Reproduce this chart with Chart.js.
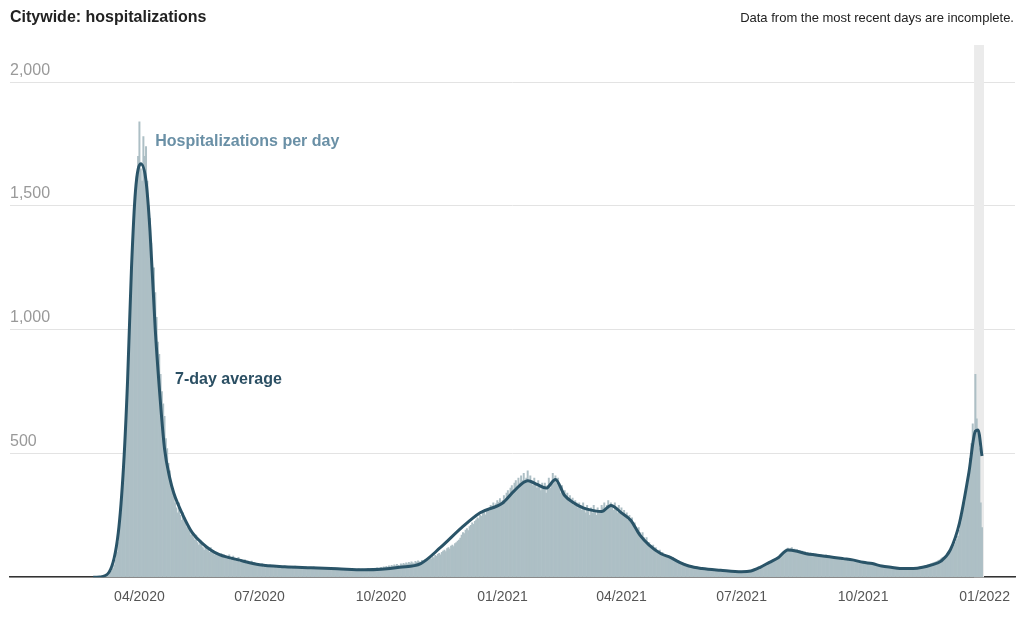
<!DOCTYPE html>
<html><head><meta charset="utf-8">
<script src="https://cdn.jsdelivr.net/npm/chart.js@4"></script>
<style>
body{margin:0;background:#fff;font-family:Arial,"Liberation Sans",sans-serif}
#wrap{position:relative;width:1024px;height:630px}
#title{position:absolute;left:10px;top:8px;font-weight:bold;font-size:16px;color:#222}
#note{position:absolute;right:10px;top:10px;font-size:13px;color:#222}
</style></head><body>
<div id="wrap"><canvas id="c" width="1024" height="630"></canvas>
<div id="title">Citywide: hospitalizations</div>
<div id="note">Data from the most recent days are incomplete.</div></div>
<script>
// days counted from 2020-04-01
const tickDays = [0, 91, 183, 275, 365, 456, 548, 640];
const tickLabels = ['04/2020','07/2020','10/2020','01/2021','04/2021','07/2021','10/2021','01/2022'];
const yTicks = [0, 500, 1000, 1500, 2000];
const barStartDay = -30; // 2020-03-02
const dailyHosp = [
1,2,3,5,6,8,10,14,18,25,35,50,70,100,140,200,260,350,420,520,640,760,900,1050,1200,1350,1500,1550,1620,1700,
1840,1650,1600,1780,1700,1740,1600,1500,1450,1350,1200,1250,1150,1050,950,900,820,750,700,650,560,520,460,430,380,340,330,300,280,260,
300,250,230,260,240,220,200,210,190,170,180,160,150,170,140,130,150,140,120,110,130,120,110,100,120,110,100,90,100,95,90,
85,95,80,90,85,75,80,90,70,75,85,70,65,75,80,60,70,65,60,70,55,65,60,55,65,50,60,55,50,55,
50,45,55,40,45,50,45,40,50,45,40,48,42,38,45,40,35,42,38,45,40,36,42,38,35,40,38,45,36,38,40,
38,35,40,36,42,38,35,40,38,36,42,34,38,40,35,37,39,34,38,36,40,35,33,38,36,34,37,35,32,36,34,
33,30,35,32,28,34,31,30,33,29,32,28,30,34,31,29,33,30,28,32,35,31,29,33,36,32,34,38,35,37,
40,36,42,38,44,40,46,42,48,44,50,46,52,48,45,54,50,56,52,58,54,60,56,62,58,55,64,60,66,62,58,
68,64,70,66,74,70,78,74,82,78,88,84,92,96,90,100,106,110,104,116,120,114,126,130,124,136,140,146,150,158,
170,180,176,190,196,188,204,210,220,214,226,232,240,236,250,246,258,264,252,270,276,268,290,280,300,286,296,310,302,318,290,
310,330,300,340,350,320,360,370,340,380,390,360,400,380,410,390,420,380,400,430,380,410,390,370,400,380,360,390,370,350,380,
360,380,340,370,400,360,380,420,390,410,380,400,360,340,370,330,350,320,340,310,330,300,320,290,310,300,280,300,
290,270,300,280,260,290,270,250,280,260,290,270,250,280,260,270,290,280,300,270,290,310,280,300,290,270,300,280,260,290,270,
280,250,270,240,260,230,250,220,240,210,220,200,190,200,180,170,180,160,150,160,140,140,130,120,130,110,120,105,100,110,
95,100,90,92,85,88,80,84,76,80,72,70,66,68,62,60,58,56,54,52,50,48,46,45,44,42,40,42,38,40,37,
36,34,35,33,32,34,31,30,32,29,28,30,27,28,26,27,25,26,24,25,23,24,22,23,24,22,21,23,22,21,
22,20,21,23,22,24,23,25,26,28,27,30,32,34,36,38,40,44,48,50,54,58,60,64,68,72,76,80,84,90,94,
98,104,110,114,118,112,116,120,110,114,108,112,104,108,100,106,98,102,96,100,94,98,92,96,90,94,88,92,86,90,84,
88,84,90,82,86,80,84,78,82,76,80,74,78,72,76,70,74,68,72,66,70,64,68,62,66,60,64,58,62,56,
60,56,58,54,58,52,56,50,54,48,52,46,50,45,48,44,46,42,44,40,42,39,41,38,40,37,39,36,38,35,37,
36,34,38,35,37,33,36,34,38,36,40,38,42,40,44,42,46,48,50,52,54,56,58,60,62,64,68,70,74,78,
80,84,88,94,100,106,114,122,130,140,152,166,190,220,250,280,300,340,380,420,480,540,620,560,820,640,580,520,300,200
];
const avgDays = [-35,-30,-23,-16,-12,-9,-6,-3,1,5,8,12,16,19,23,26,33,40,47,54,61,75,91,110,130,150,170,183,197,213,228,244,258,275,284,294,301,308,315,322,329,336,343,350,357,365,372,379,386,395,402,409,416,426,440,456,463,470,477,484,491,498,505,512,519,526,533,540,548,555,562,569,579,586,593,600,607,614,621,628,633,635,638];
const avgValues = [0,1,20,180,450,790,1250,1560,1670,1600,1400,1000,700,520,400,340,250,180,140,110,90,70,50,42,38,34,30,32,40,55,120,200,260,300,350,390,375,360,395,330,300,280,270,265,290,260,230,170,130,95,80,60,45,35,28,22,25,40,60,80,110,105,95,90,85,80,75,70,60,55,45,40,35,35,40,50,65,110,220,420,590,595,490];
const barData = dailyHosp.map((v, i) => ({x: barStartDay + i, y: v}));
const avgData = avgDays.map((d, i) => ({x: d, y: avgValues[i]}));

const extras = {
  id: 'extras',
  beforeDatasetsDraw(chart) {
    const {ctx, chartArea, scales} = chart;
    const x0 = scales.x.getPixelForValue(632), x1 = scales.x.getPixelForValue(639.5);
    ctx.save(); ctx.fillStyle = '#ebebeb';
    ctx.fillRect(x0, chartArea.top, x1 - x0, chartArea.bottom - chartArea.top);
    ctx.restore();
  },
  afterDatasetsDraw(chart) {
    const {ctx, scales} = chart;
    ctx.save(); ctx.font = 'bold 16px Arial, "Liberation Sans", sans-serif';
    ctx.fillStyle = '#6a90a6';
    ctx.fillText('Hospitalizations per day', scales.x.getPixelForValue(12), scales.y.getPixelForValue(1740));
    ctx.fillStyle = '#2b4f63';
    ctx.fillText('7-day average', scales.x.getPixelForValue(27), scales.y.getPixelForValue(780));
    ctx.restore();
  }
};

new Chart(document.getElementById('c'), {
  data: {
    datasets: [
      {type: 'line', data: avgData, borderColor: '#2a5468', borderWidth: 3, pointRadius: 0, tension: 0.4, cubicInterpolationMode: 'monotone', order: 0},
      {type: 'bar', data: barData, backgroundColor: '#adbfc5', barPercentage: 1, categoryPercentage: 1, order: 1}
    ]
  },
  options: {
    responsive: false, animation: false,
    layout: {padding: {top: 45, left: 10, right: 9, bottom: 12}},
    plugins: {legend: {display: false}, tooltip: {enabled: false}},
    scales: {
      x: {
        type: 'linear', min: -98, max: 663, offset: false,
        afterBuildTicks: s => { s.ticks = tickDays.map(v => ({value: v})); },
        ticks: {autoSkip: false, maxRotation: 0, color: '#555', font: {size: 14}, padding: 12,
          callback: v => tickLabels[tickDays.indexOf(v)]},
        grid: {drawOnChartArea: false, drawTicks: false, offset: false},
        border: {color: '#333', width: 1.5}
      },
      y: {
        min: 0, max: 2150,
        afterBuildTicks: s => { s.ticks = yTicks.map(v => ({value: v})); },
        ticks: {mirror: true, labelOffset: -12, padding: 0, color: '#999', font: {size: 16},
          callback: v => v === 0 ? '' : v.toLocaleString('en-US')},
        grid: {color: '#e3e3e3', drawTicks: false},
        border: {display: false}
      }
    }
  },
  plugins: [extras]
});
</script>
</body></html>
